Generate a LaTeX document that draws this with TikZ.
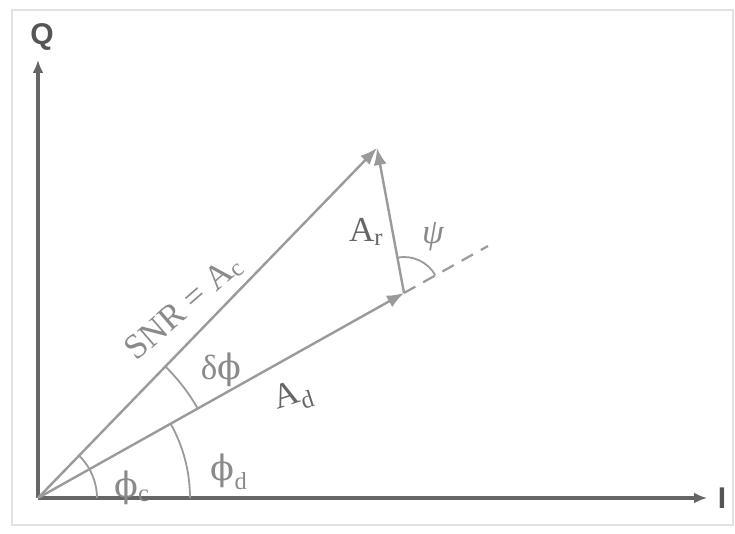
\documentclass[tikz,border=0pt]{standalone}
\usepackage{fontspec}
\setmainfont{Liberation Serif}
\newfontfamily\grk{DejaVu Serif}
\newfontfamily\axf{Liberation Sans}
\usetikzlibrary{arrows.meta}
\definecolor{vecc}{HTML}{9A9A9A}
\definecolor{labc}{HTML}{8A8A8A}
\definecolor{axc}{HTML}{666666}
\definecolor{axt}{HTML}{555555}
\definecolor{brd}{HTML}{E2E2E2}
\tikzset{
  vec/.style={draw=vecc, line width=2.4pt, -{Latex[length=17pt,width=13pt]}},
  axis/.style={draw=axc, line width=3.4pt, -{Latex[length=13pt,width=11pt]}},
  ang/.style={draw=vecc, line width=1.8pt},
  lab/.style={text=labc, inner sep=0pt, font=\fontsize{35}{40}\selectfont},
  axlab/.style={text=axt, inner sep=0pt, font=\axf\bfseries\fontsize{30}{34}\selectfont},
}
\begin{document}
\begin{tikzpicture}[x=1pt,y=1pt]
\useasboundingbox (0,0) rectangle (735,534);
\draw[brd, line width=1.2pt] (12,9) rectangle (733,524);
% points
\coordinate (O) at (38,36);
\coordinate (Qt) at (38,474);
\coordinate (It) at (707,36);
\coordinate (C) at (377,386);
\coordinate (D) at (404,241);
\coordinate (E) at (488,288);
% axes
\draw[axis] (O) -- (Qt);
\draw[axis] (O) -- (It);
\node[axlab] (Q) at (42,497) {Q};
\node[axlab] (I) at (722,36) {I};
% vectors
\draw[vec] (O) -- (C);
\draw[vec] (O) -- (D);
\draw[vec] (D) -- (C);
\draw[draw=vecc, line width=2.2pt, dash pattern=on 13pt off 9pt] (D) -- (E);
% angle arcs
\draw[ang] ([shift={(0:59pt)}]O) arc[start angle=0, end angle=45.9, radius=59pt];
\draw[ang] ([shift={(0:152pt)}]O) arc[start angle=0, end angle=29.25, radius=152pt];
\draw[ang] ([shift={(29.25:183pt)}]O) arc[start angle=29.25, end angle=45.9, radius=183pt];
\draw[ang] ([shift={(29.25:36pt)}]D) arc[start angle=29.25, end angle=100.5, radius=36pt];
% labels
\node[lab, rotate=41] (snr) at (184,226) {SNR = A\textsubscript{c}};
\node[lab] (dphi) at (221,164) {δ{\grk ϕ}};
\node[lab, rotate=18, text=axc] (ad) at (293,137) {A\textsubscript{d}};
\node[lab] (phic) at (132,46) {{\grk ϕ}\textsubscript{c}};
\node[lab] (phid) at (229,62) {{\grk ϕ}\textsubscript{d}};
\node[lab, text=axc] (ar) at (366,302) {A\textsubscript{r}};
\node[lab] (psi) at (433,297) {\itshape ψ};
\end{tikzpicture}
\end{document}
